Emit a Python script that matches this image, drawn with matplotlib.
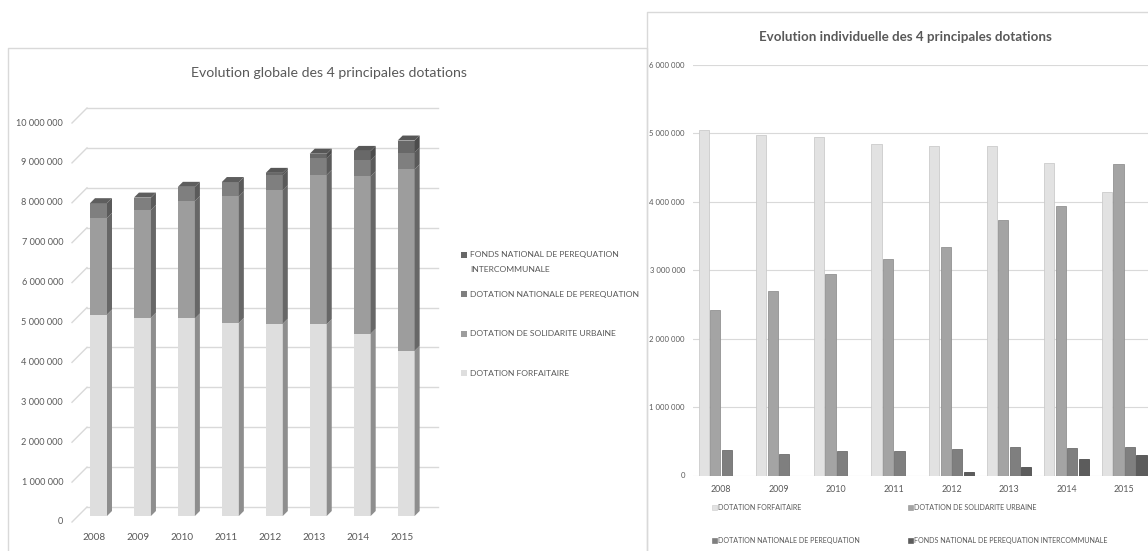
import matplotlib
matplotlib.use("Agg")
import matplotlib.pyplot as plt
from matplotlib.patches import Polygon, Rectangle
from matplotlib.lines import Line2D

# ---------------- data (euros) ----------------
years = ["2008", "2009", "2010", "2011", "2012", "2013", "2014", "2015"]
forfaitaire = [5050000, 4970000, 4950000, 4840000, 4820000, 4810000, 4570000, 4140000]
solidarite = [2420000, 2700000, 2940000, 3170000, 3340000, 3740000, 3940000, 4550000]
perequation = [370000, 310000, 360000, 360000, 390000, 410000, 400000, 420000]
fonds_interco = [0, 0, 0, 0, 50000, 120000, 240000, 300000]
series_names = ["DOTATION FORFAITAIRE", "DOTATION DE SOLIDARITE URBAINE",
                "DOTATION NATIONALE DE PEREQUATION",
                "FONDS NATIONAL DE PEREQUATION INTERCOMMUNALE"]
left_ticks = [0, 1000000, 2000000, 3000000, 4000000, 5000000,
              6000000, 7000000, 8000000, 9000000, 10000000]
right_ticks = [0, 1000000, 2000000, 3000000, 4000000, 5000000, 6000000]
title_left = "Evolution globale des 4 principales dotations"
title_right = "Evolution individuelle des 4 principales dotations"

FONT = "Lato"
TXT = "#595959"
GRID = "#d9d9d9"

W, H, DPI = 1148, 551, 100
fig = plt.figure(figsize=(W / DPI, H / DPI), dpi=DPI)
fig.patch.set_facecolor("white")


def fx(px):
    return px / W


def fy(py):
    return 1 - py / H


def fmt(v):
    return f"{int(v):,}".replace(",", " ")


# ---------------- panel borders ----------------
fig.add_artist(Line2D([fx(8), fx(8), fx(647), fx(647)], [fy(560), fy(48), fy(48), fy(560)],
                      transform=fig.transFigure, color=GRID, lw=1.0))
fig.add_artist(Line2D([fx(647), fx(647), fx(1160)], [fy(560), fy(12), fy(12)],
                      transform=fig.transFigure, color=GRID, lw=1.0))

# ---------------- left chart: stacked 3D-looking columns ----------------
step_px = 43.95            # pixels per category
ypx = 39.9 / 1e6           # pixels per euro
bar0_px = 98.5
xl_px, xr_px = 78, 429
y0_px, ytop_px = 516, 516 - 39.9 * 10

ax1 = fig.add_axes([fx(xl_px), fy(y0_px), (xr_px - xl_px) / W, (y0_px - ytop_px) / H])
xl = (xl_px - bar0_px) / step_px
xr = (xr_px - bar0_px) / step_px
ax1.set_xlim(xl, xr)
ax1.set_ylim(0, 10000000)
ax1.axis("off")


def dxp(px):
    return px / step_px


def dyp(px):
    return px / ypx


# back-wall gridlines with floor/side slant
for v in left_ticks:
    ax1.plot([xl + dxp(9), xr + dxp(9)], [v + dyp(9), v + dyp(9)], color=GRID, lw=1.0,
             clip_on=False, zorder=1)
    ax1.plot([xl - dxp(6), xl + dxp(9)], [v - dyp(6), v + dyp(9)], color=GRID, lw=1.0,
             clip_on=False, zorder=1)
    ax1.text(xl - dxp(15), v - dyp(6), fmt(v), ha="right", va="center",
             fontsize=6.6, color=TXT, family=FONT)

for i, yr in enumerate(years):
    ax1.text(i - dxp(4.5), -dyp(21), yr, ha="center", va="center",
             fontsize=7.2, color=TXT, family=FONT)

stack = [forfaitaire, solidarite, perequation, fonds_interco]
front_c = ["#dedede", "#9d9d9d", "#7f7f7f", "#686868"]
side_c = ["#8e8e8e", "#676767", "#5a5a5a", "#4c4c4c"]
top_c = ["#c4c4c4", "#7a7a7a", "#5e5e5e", "#575757"]
bw = 17 / step_px
ddx, ddy = dxp(5), dyp(5)

for i in range(len(years)):
    bottom = 0
    top_k = 0
    for k, s in enumerate(stack):
        h = s[i]
        if h <= 0:
            continue
        ax1.bar(i, h, bottom=bottom, width=bw, color=front_c[k], linewidth=0,
                zorder=3, clip_on=False)
        xrgt = i + bw / 2
        ax1.add_patch(Polygon([(xrgt, bottom), (xrgt, bottom + h),
                               (xrgt + ddx, bottom + h + ddy), (xrgt + ddx, bottom + ddy)],
                              closed=True, facecolor=side_c[k], edgecolor="none",
                              zorder=3, clip_on=False))
        bottom += h
        top_k = k
    xlft = i - bw / 2
    xrgt = i + bw / 2
    ax1.add_patch(Polygon([(xlft, bottom), (xrgt, bottom), (xrgt + ddx, bottom + ddy),
                           (xlft + ddx, bottom + ddy)], closed=True,
                          facecolor=top_c[top_k], edgecolor="none", zorder=3, clip_on=False))

# left legend (top entry first)
leg_left = [
    (["FONDS NATIONAL DE PEREQUATION", "INTERCOMMUNALE"], 255, front_c[3]),
    (["DOTATION NATIONALE DE PEREQUATION"], 294, front_c[2]),
    (["DOTATION DE SOLIDARITE URBAINE"], 334, front_c[1]),
    (["DOTATION FORFAITAIRE"], 373, front_c[0]),
]
for lines, ypos, col in leg_left:
    fig.add_artist(Rectangle((fx(461), fy(ypos + 3)), 6 / W, 6 / H, transform=fig.transFigure,
                             facecolor=col, edgecolor="none"))
    for j, ln in enumerate(lines):
        fig.text(fx(470), fy(ypos + 15 * j), ln, ha="left", va="center",
                 fontsize=6.1, color=TXT, family=FONT)

fig.text(fx(329), fy(73), title_left, ha="center", va="center", fontsize=10.2,
         color=TXT, family=FONT)

# ---------------- right chart: clustered columns ----------------
gstep = 57.6
g0 = 721
rl_px, rr_px = 693, 1160
r0_px, rtop_px = 475.5, 65
ax2 = fig.add_axes([fx(rl_px), fy(r0_px), (rr_px - rl_px) / W, (r0_px - rtop_px) / H])
ax2.set_xlim((rl_px - g0) / gstep, (rr_px - g0) / gstep)
ax2.set_ylim(0, 6000000)
for sp in ax2.spines.values():
    sp.set_visible(False)
ax2.set_yticks(right_ticks)
ax2.set_yticklabels([fmt(v) for v in right_ticks], fontsize=5.6, color=TXT, family=FONT)
ax2.set_xticks(range(len(years)))
ax2.set_xticklabels(years, fontsize=6.4, color=TXT, family=FONT)
ax2.tick_params(axis="y", length=0, pad=5.8)
ax2.tick_params(axis="x", length=0, pad=7.0)
ax2.grid(axis="y", color=GRID, lw=0.8)
ax2.set_axisbelow(True)

r_face = ["#e2e2e2", "#a4a4a4", "#7f7f7f", "#5c5c5c"]
r_edge = ["#cbcbcb", "#929292", "#6f6f6f", "#4d4d4d"]
slot = 11.5 / gstep
for k, s in enumerate(stack):
    xs = [i + (k - 1.5) * slot for i in range(len(years))]
    ax2.bar(xs, s, width=slot * 0.88, color=r_face[k], edgecolor=r_edge[k],
            linewidth=0.6, zorder=3)

leg_right = [(series_names[0], 713, 507), (series_names[1], 909, 507),
             (series_names[2], 713, 540), (series_names[3], 909, 540)]
for k, (name, xpos, ypos) in enumerate(leg_right):
    fig.add_artist(Rectangle((fx(xpos - 1), fy(ypos + 2.5)), 5 / W, 5 / H,
                             transform=fig.transFigure, facecolor=r_face[k],
                             edgecolor=r_edge[k], lw=0.4))
    fig.text(fx(xpos + 5), fy(ypos), name, ha="left", va="center", fontsize=5.1,
             color=TXT, family=FONT)

fig.text(fx(905), fy(37), title_right, ha="center", va="center", fontsize=9.6,
         color=TXT, family=FONT, weight="bold")

fig.savefig("out.png", dpi=DPI)
